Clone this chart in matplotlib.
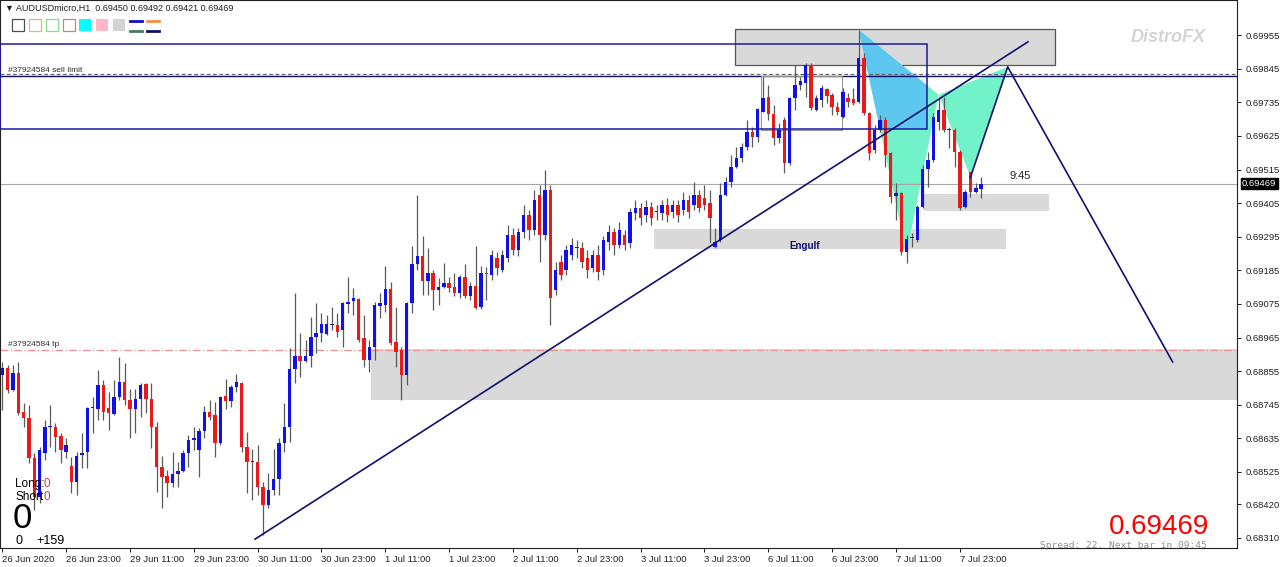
import numpy as np
import matplotlib.pyplot as plt
from matplotlib.patches import Rectangle, Polygon

plt.rcParams['font.family'] = ['Liberation Sans', 'DejaVu Sans']

# AUDUSDmicro H1 candles, prices in points (x 1e-5), bar 0 = 26 Jun 11:00
opens = [68842, 68865, 68793, 68849, 68721, 68701, 68570, 68443, 68587, 68672,
         68672, 68643, 68590, 68544, 68492, 68580, 68590, 68734, 68731, 68810,
         68734, 68715, 68770, 68819, 68760, 68731, 68764, 68813, 68764, 68672,
         68541, 68511, 68489, 68518, 68528, 68587, 68629, 68597, 68659, 68721,
         68711, 68620, 68773, 68757, 68803, 68816, 68606, 68557, 68557, 68476,
         68417, 68466, 68502, 68620, 68672, 68862, 68904, 68888, 68904, 68967,
         68980, 68977, 69006, 69006, 68990, 69075, 69084, 69091, 68963, 68891,
         68934, 69068, 69071, 69124, 68950, 68924, 68842, 69078, 69206, 69232,
         69150, 69176, 69121, 69130, 69143, 69130, 69111, 69163, 69101, 69134,
         69065, 69176, 69170, 69225, 69186, 69225, 69301, 69252, 69310, 69366,
         69317, 69432, 69301, 69448, 69121, 69212, 69186, 69235, 69258, 69258,
         69225, 69193, 69235, 69186, 69278, 69310, 69268, 69301, 69274, 69373,
         69389, 69366, 69392, 69376, 69373, 69399, 69376, 69399, 69382, 69415,
         69399, 69432, 69422, 69405, 69261, 69284, 69432, 69474, 69523, 69553,
         69589, 69638, 69621, 69703, 69752, 69697, 69618, 69677, 69536, 69749,
         69792, 69798, 69857, 69710, 69743, 69779, 69759, 69720, 69687, 69749,
         69746, 69736, 69880, 69700, 69579, 69644, 69677, 69569, 69428, 69438,
         69245, 69291, 69284, 69392, 69517, 69546, 69671, 69710, 69644, 69644,
         69572, 69392, 69507, 69441, 69450]
highs = [68885, 68875, 68875, 68885, 68751, 68744, 68587, 68606, 68695, 68744,
         68685, 68652, 68636, 68574, 68590, 68652, 68737, 68770, 68859, 68826,
         68787, 68826, 68901, 68882, 68796, 68796, 68816, 68816, 68816, 68688,
         68577, 68531, 68590, 68557, 68597, 68646, 68672, 68669, 68741, 68760,
         68754, 68773, 68829, 68810, 68846, 68819, 68656, 68600, 68613, 68492,
         68521, 68600, 68636, 68751, 68931, 69111, 68980, 68957, 69032, 69078,
         69045, 69039, 69065, 69045, 69081, 69163, 69127, 69094, 69039, 68957,
         69081, 69111, 69199, 69147, 69065, 68934, 69081, 69265, 69432, 69297,
         69258, 69186, 69160, 69209, 69163, 69176, 69170, 69206, 69147, 69265,
         69199, 69196, 69252, 69245, 69252, 69333, 69323, 69323, 69399, 69382,
         69448, 69464, 69513, 69464, 69212, 69235, 69268, 69291, 69284, 69278,
         69252, 69252, 69268, 69297, 69333, 69323, 69343, 69317, 69389, 69415,
         69405, 69415, 69409, 69399, 69415, 69422, 69415, 69415, 69441, 69432,
         69474, 69448, 69464, 69448, 69323, 69471, 69490, 69563, 69589, 69602,
         69677, 69654, 69716, 69818, 69792, 69726, 69667, 69687, 69752, 69857,
         69818, 69864, 69864, 69759, 69792, 69782, 69766, 69736, 69782, 69766,
         69782, 69972, 69897, 69703, 69661, 69693, 69687, 69572, 69471, 69441,
         69301, 69307, 69399, 69530, 69572, 69700, 69752, 69752, 69654, 69651,
         69579, 69448, 69507, 69471, 69492]
lows = [68728, 68783, 68790, 68711, 68672, 68554, 68400, 68423, 68564, 68606,
        68590, 68554, 68570, 68456, 68449, 68538, 68538, 68652, 68695, 68695,
        68662, 68712, 68760, 68744, 68636, 68652, 68705, 68718, 68603, 68459,
        68407, 68443, 68476, 68476, 68525, 68541, 68597, 68508, 68636, 68695,
        68574, 68613, 68731, 68737, 68787, 68590, 68456, 68433, 68449, 68318,
        68407, 68449, 68449, 68590, 68623, 68816, 68836, 68885, 68868, 68914,
        68950, 68973, 68990, 68967, 68934, 69045, 69039, 68950, 68868, 68852,
        68891, 69029, 69049, 68941, 68868, 68760, 68810, 69045, 69186, 69104,
        69104, 69055, 69071, 69127, 69114, 69101, 69094, 69094, 69088, 69058,
        69058, 69088, 69153, 69170, 69180, 69212, 69235, 69232, 69291, 69284,
        69301, 69212, 69284, 69006, 69104, 69153, 69170, 69219, 69225, 69193,
        69160, 69180, 69153, 69170, 69252, 69235, 69258, 69252, 69258, 69350,
        69333, 69343, 69333, 69350, 69350, 69343, 69356, 69343, 69366, 69356,
        69382, 69376, 69382, 69274, 69258, 69278, 69428, 69458, 69520, 69540,
        69579, 69589, 69605, 69703, 69677, 69595, 69602, 69504, 69530, 69710,
        69775, 69752, 69710, 69706, 69720, 69733, 69693, 69693, 69684, 69720,
        69726, 69733, 69693, 69546, 69569, 69638, 69523, 69405, 69350, 69235,
        69209, 69261, 69278, 69389, 69458, 69540, 69644, 69638, 69585, 69523,
        69382, 69389, 69425, 69438, 69421]
closes = [68865, 68793, 68849, 68718, 68701, 68570, 68443, 68597, 68672, 68674,
          68639, 68597, 68613, 68492, 68577, 68587, 68734, 68736, 68810, 68721,
          68718, 68770, 68819, 68760, 68731, 68764, 68810, 68764, 68672, 68541,
          68508, 68489, 68518, 68528, 68587, 68629, 68636, 68659, 68721, 68705,
          68620, 68770, 68757, 68803, 68819, 68606, 68557, 68559, 68476, 68417,
          68466, 68502, 68620, 68672, 68862, 68904, 68888, 68904, 68967, 68980,
          69009, 69009, 69006, 68983, 69078, 69081, 69094, 68957, 68891, 68934,
          69071, 69078, 69124, 68947, 68918, 68842, 69078, 69206, 69232, 69150,
          69176, 69121, 69130, 69143, 69127, 69111, 69163, 69101, 69134, 69062,
          69176, 69173, 69235, 69193, 69235, 69301, 69252, 69310, 69366, 69317,
          69415, 69301, 69448, 69094, 69186, 69170, 69252, 69268, 69258, 69212,
          69186, 69235, 69180, 69284, 69310, 69268, 69317, 69268, 69376, 69389,
          69356, 69392, 69356, 69376, 69399, 69366, 69399, 69366, 69415, 69376,
          69432, 69389, 69399, 69356, 69278, 69432, 69474, 69523, 69553, 69589,
          69638, 69621, 69713, 69749, 69697, 69618, 69644, 69536, 69749, 69792,
          69805, 69857, 69716, 69749, 69782, 69756, 69720, 69703, 69769, 69736,
          69733, 69880, 69700, 69569, 69644, 69677, 69563, 69425, 69438, 69245,
          69288, 69291, 69392, 69517, 69546, 69687, 69710, 69644, 69644, 69572,
          69389, 69441, 69441, 69455, 69469]

time_ticks = [0, 12, 24, 36, 48, 60, 72, 84, 96, 108, 120, 132, 144, 156, 168, 180]
time_labels = ["26 Jun 2020", "26 Jun 23:00", "29 Jun 11:00", "29 Jun 23:00",
               "30 Jun 11:00", "30 Jun 23:00", "1 Jul 11:00", "1 Jul 23:00",
               "2 Jul 11:00", "2 Jul 23:00", "3 Jul 11:00", "3 Jul 23:00",
               "6 Jul 11:00", "6 Jul 23:00", "7 Jul 11:00", "7 Jul 23:00"]
price_ticks = [0.69955, 0.69845, 0.69735, 0.69625, 0.69515, 0.69405, 0.69295,
               0.69185, 0.69075, 0.68965, 0.68855, 0.68745, 0.68635, 0.68525,
               0.68420, 0.68310]
last_price = 0.69469
sell_limit = 0.69829
take_profit = 0.68924
level_line = 0.69821

# zones: (bar from, bar to, price low, price high)
supply_zone = (137.7, 197.9, 0.69857, 0.69975)
engulf_zone = (122.6, 188.7, 0.69255, 0.69320)
retest_zone = (173.3, 196.8, 0.69379, 0.69435)
demand_zone = (69.3, 240.0, 0.68760, 0.68927)
range_box = (-0.5, 173.8, 0.69648, 0.69926)
inner_box = (142.6, 157.8, 0.69644, 0.69821)
trend_line = [(47.5, 0.68305), (192.8, 0.69933)]
# harmonic pattern X, A, B, C, D and projected leg
pat_x = [161, 170, 176, 182, 189, 220]
pat_y = [0.69972, 0.69240, 0.69760, 0.69490, 0.69851, 0.68885]

o = np.array(opens) / 1e5
h = np.array(highs) / 1e5
l = np.array(lows) / 1e5
c = np.array(closes) / 1e5
idx = np.arange(len(o))

BLUE = '#1010e8'
RED = '#e81a1a'
NAVY = '#101070'
ZONE = '#d9d9d9'

fig = plt.figure(figsize=(12.8, 5.67), dpi=100)
ax = fig.add_axes([0.0, 19 / 567, 1237 / 1280, 548 / 567])
ax.set_xlim(-0.43, 232.1)
ax.set_ylim(0.68276, 0.70070)

# zones
for x0, x1, p0, p1 in [demand_zone, engulf_zone, retest_zone]:
    ax.add_patch(Rectangle((x0, p0), x1 - x0, p1 - p0, facecolor=ZONE,
                           edgecolor='none', zorder=0))
ax.add_patch(Rectangle((supply_zone[0], supply_zone[2]), supply_zone[1] - supply_zone[0],
                       supply_zone[3] - supply_zone[2], facecolor=ZONE,
                       edgecolor='#555555', lw=0.9, zorder=0))

# harmonic triangles
tri1 = [(pat_x[0], pat_y[0]), (pat_x[1], pat_y[1]), (pat_x[2], pat_y[2])]
tri2 = [(pat_x[2], pat_y[2]), (pat_x[3], pat_y[3]), (pat_x[4], pat_y[4])]
ax.add_patch(Polygon(tri1, closed=True, facecolor='#72f2c8', edgecolor='none', zorder=1))
ax.add_patch(Polygon(tri2, closed=True, facecolor='#72f2c8', edgecolor='none', zorder=1))
sky = Polygon(tri1, closed=True, facecolor='#5cc8f0', edgecolor='none', zorder=1.1)
ax.add_patch(sky)
clip = Rectangle((range_box[0], range_box[2]), range_box[1] - range_box[0], 0.01,
                 transform=ax.transData)
sky.set_clip_path(clip)

# horizontal levels
ax.axhline(last_price, color='#a8a8a8', lw=0.8, zorder=1.5)
ax.axhline(take_profit, color='#f09090', lw=0.9, ls=(0, (6, 2, 1, 2)), zorder=1.5)
ax.axhline(sell_limit, color='#666666', lw=0.9, ls=(0, (3, 2)), zorder=1.5)
ax.axhline(level_line, color=NAVY, lw=1.0, zorder=1.5)

# range rectangles
ax.add_patch(Rectangle((range_box[0], range_box[2]), range_box[1] - range_box[0],
                       range_box[3] - range_box[2], facecolor='none',
                       edgecolor='#1a1aa0', lw=1.1, zorder=5))
ax.add_patch(Rectangle((inner_box[0], inner_box[2]), inner_box[1] - inner_box[0],
                       inner_box[3] - inner_box[2], facecolor='none',
                       edgecolor='#909090', lw=0.7, zorder=1.6))

# candles
ax.vlines(idx, l, h, color='#5a5a5a', lw=0.9, zorder=3)
body_lo = np.minimum(o, c)
body_h = np.maximum(np.abs(c - o), 0.00003)
cols = np.where(c > o, BLUE, np.where(c < o, RED, '#303030'))
ax.bar(idx, body_h, bottom=body_lo, width=0.64, color=cols, linewidth=0, zorder=4)

# trend line and pattern legs
ax.plot([p[0] for p in trend_line], [p[1] for p in trend_line], color=NAVY, lw=1.2, zorder=6)
ax.plot(pat_x[3:], pat_y[3:], color=NAVY, lw=1.2, zorder=6)

ax.text(189.4, 0.69494, '9:45', fontsize=8, color='#202020', ha='left', va='center', zorder=7)
ax.text(150.9, 0.69265, 'Engulf', fontsize=7, fontweight='bold', color=NAVY,
        ha='center', va='center', zorder=7)

# axes styling
for s in ax.spines.values():
    s.set_color('#202020')
    s.set_linewidth(0.8)
ax.yaxis.tick_right()
ax.set_yticks(price_ticks)
ax.set_yticklabels([f'{p:.5f}' for p in price_ticks])
ax.set_xticks(time_ticks)
ax.set_xticklabels(time_labels, ha='left')
ax.tick_params(axis='both', labelsize=6.8, colors='#202020', length=3, width=0.7, pad=2)
ax.tick_params(axis='y', pad=3)

ax.text(1.004, (last_price - 0.68276) / (0.70070 - 0.68276), f'{last_price:.5f}',
        transform=ax.transAxes, fontsize=6.8, color='white', va='center', ha='left',
        bbox=dict(boxstyle='square,pad=0.15', facecolor='black', edgecolor='black'),
        zorder=8, clip_on=False)

# overlay for terminal decorations (pixel coordinates)
ov = fig.add_axes([0, 0, 1, 1], zorder=10)
ov.set_xlim(0, 1280)
ov.set_ylim(567, 0)
ov.axis('off')
ov.patch.set_alpha(0)

ov.text(5, 8, '\u25bc AUDUSDmicro,H1  0.69450 0.69492 0.69421 0.69469', fontsize=6.5,
        color='#202020', va='center', ha='left')
for x0, ec, fc in [(12, '#505050', 'none'), (29, '#f0b070', 'none'), (46, '#80e090', 'none'),
                   (63, '#c08888', 'none'), (79, 'none', '#00ffff'), (96, 'none', '#ffb6c8'),
                   (113, 'none', '#d3d3d3')]:
    ov.add_patch(Rectangle((x0, 19), 12, 12, facecolor=fc, edgecolor=ec, lw=0.9))
ov.plot([130, 142], [20.5, 20.5], color='#1010c0', lw=2)
ov.plot([130, 142], [31, 31], color='#408060', lw=2)
ov.plot([147, 159], [20.5, 20.5], color='#f09040', lw=2)
ov.plot([147, 159], [31, 31], color='#101060', lw=2)

ov.text(8, 70, '#37924584 sell limit', fontsize=6, color='#303030', va='center')
ov.text(8, 345, '#37924584 tp', fontsize=6, color='#303030', va='center')

ov.text(1168, 38, 'DistroFX', fontsize=13, fontweight='bold', fontstyle='italic',
        color='#d4d4d4', ha='center', va='center')

ov.text(15, 484, 'Long:', fontsize=8.5, color='black', va='center')
ov.text(44, 484, '0', fontsize=8.5, color='#c04040', va='center')
ov.text(15, 497, 'Short', fontsize=8.5, color='black', va='center')
ov.text(44, 497, '0', fontsize=8.5, color='#c04040', va='center')
ov.text(13, 519, '0', fontsize=25, color='black', va='center')
ov.text(15, 541, '0', fontsize=9, color='black', va='center')
ov.text(36, 541, '+159', fontsize=9, color='black', va='center')

ov.text(1209, 527, '0.69469', fontsize=20, color='#ff0000', ha='right', va='center')
ov.text(1207, 545, 'Spread: 22. Next bar in 09:45', fontsize=6.8, family='DejaVu Sans Mono',
        color='#909090', ha='right', va='center')

fig.savefig('out.png', dpi=100)
